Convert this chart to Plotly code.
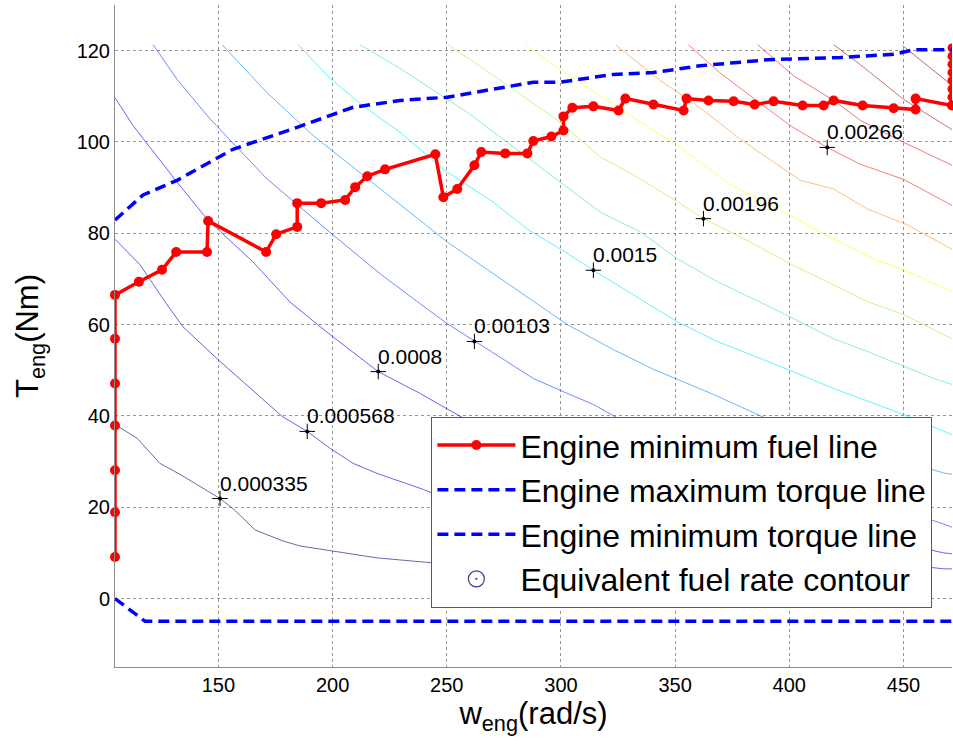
import plotly.graph_objects as go

# ---------------- data ----------------
# Engine minimum fuel line
minfuel_w = [104.72, 104.72, 104.72, 104.72, 104.72, 104.72, 104.72, 115.2, 125.3, 131.5, 145.0, 145.5,
             170.9, 175.3, 184.5, 184.5, 195.0, 205.5, 209.9, 215.2, 223.0, 245.0, 248.5, 254.6,
             262.1, 265.1, 275.6, 285.3, 287.9, 295.8, 301.1, 301.1, 305.0, 314.2, 325.2, 328.2,
             340.5, 353.7, 355.0, 364.6, 375.6, 384.8, 393.1, 405.8, 415.0, 419.4, 432.1, 445.7,
             455.3, 455.3, 471.24, 471.24, 471.24, 471.24, 471.24, 471.24, 471.24, 471.24]
minfuel_T = [9.1, 18.9, 28.1, 37.9, 47.1, 56.9, 66.5, 69.4, 72.0, 75.9, 75.9, 82.7,
             75.9, 79.8, 81.4, 86.6, 86.6, 87.3, 90.1, 92.5, 94.0, 97.3, 87.9, 89.7,
             94.9, 97.8, 97.5, 97.5, 100.2, 101.2, 102.5, 105.6, 107.5, 107.8, 106.9, 109.5,
             108.2, 106.9, 109.5, 109.1, 108.9, 108.2, 108.9, 108.0, 108.0, 109.1, 108.0, 107.4,
             107.1, 109.5, 108.0, 109.8, 111.6, 113.4, 115.2, 117.0, 118.8, 120.6]
n_edge = 8  # the last points lie on the right border of the map

# Engine maximum torque line
maxtq_w = [104.72, 117.0, 131.9, 156.4, 184.5, 209.0, 229.6, 250.2, 287.9, 299.7, 322.9, 340.5,
           361.1, 390.5, 422.5, 445.7, 454.5, 471.24]
maxtq_T = [82.9, 88.4, 91.6, 98.4, 103.2, 107.6, 109.1, 109.8, 113.1, 113.1, 114.8, 115.2,
           116.7, 118.0, 118.5, 119.2, 120.2, 120.2]

# Engine minimum torque line
mintq_w = [104.72, 117.9, 471.24]
mintq_T = [0.0, -5.0, -5.0]

# Equivalent fuel rate contour lines (one pair of lists per level)
levels = [0.000335, 0.000568, 0.0008, 0.00103, 0.00126, 0.0015, 0.00173,
          0.00196, 0.00219, 0.00243, 0.00266, 0.00289, 0.00312, 0.00336]

c0_w = [104.72, 114.4, 124.4, 133.2, 150.7, 156.4, 166.1, 178.3, 185.8, 200.3, 219.5, 244.1, 280.0, 320.0, 380.0]
c0_T = [38.1, 35.1, 29.6, 27.2, 21.9, 19.7, 15.0, 12.6, 11.5, 10.4, 8.9, 7.8, 6.8, 6.0, 5.0]
c1_w = [104.72, 115.7, 126.6, 134.5, 149.9, 158.2, 177.9, 188.9, 198.9, 209.0, 219.5, 239.7, 244.1,
        300.0, 350.0, 400.0, 440.0, 467.6, 471.24]
c1_T = [78.7, 73.1, 65.0, 59.5, 52.3, 48.6, 39.9, 36.6, 32.9, 29.6, 27.4, 23.9, 23.0,
        17.5, 13.5, 10.5, 8.0, 6.5, 6.5]
c2_w = [104.72, 112.6, 131.9, 145.0, 165.2, 181.4, 198.9, 220.0, 238.4, 250.2, 266.0,
        300.0, 350.0, 400.0, 440.0, 467.6, 471.24]
c2_T = [109.7, 103.6, 91.2, 83.1, 73.7, 64.9, 57.8, 49.7, 44.9, 41.6, 37.0,
        31.5, 24.5, 18.0, 13.0, 10.0, 9.8]
c3_w = [121.4, 131.9, 146.4, 171.3, 200.3, 220.9, 235.3, 250.2, 262.5, 287.9, 300.6, 314.2, 333.5,
        370.0, 400.0, 440.0, 467.6, 471.24]
c3_T = [121.3, 113.7, 105.0, 91.9, 79.6, 71.1, 65.7, 60.2, 56.3, 48.2, 45.4, 42.5, 37.1,
        31.5, 27.5, 21.0, 16.3, 15.6]
c4_w = [151.6, 171.3, 191.5, 229.6, 250.2, 264.7, 289.7, 302.8, 323.0, 340.5, 366.8, 386.1, 399.2,
        430.0, 467.6, 471.24]
c4_T = [121.3, 110.8, 101.4, 86.2, 78.1, 73.1, 64.4, 60.0, 54.5, 50.2, 44.7, 40.3, 37.3,
        33.0, 27.5, 27.2]
c5_w = [184.9, 199.0, 213.4, 229.6, 248.5, 270.4, 285.3, 300.6, 314.2, 331.7, 351.0, 368.5, 399.2,
        419.4, 450.1, 471.24]
c5_T = [121.3, 113.9, 107.9, 102.1, 94.0, 86.8, 80.9, 76.3, 71.9, 66.5, 60.6, 56.3, 50.2,
        46.0, 40.3, 35.9]
c6_w = [212.1, 229.6, 259.0, 299.7, 317.3, 334.8, 351.0, 368.5, 393.1, 419.4, 434.3, 463.2, 471.24]
c6_T = [121.3, 116.1, 106.5, 91.2, 84.6, 80.3, 74.4, 69.4, 63.5, 56.9, 54.1, 48.2, 46.9]
c7_w = [250.7, 273.5, 299.7, 317.3, 331.7, 351.0, 362.4, 378.6, 393.1, 400.5, 434.3, 450.1, 471.24]
c7_T = [121.3, 113.5, 104.3, 96.7, 92.8, 86.9, 83.2, 79.2, 75.3, 73.3, 65.0, 62.2, 56.9]
c8_w = [284.4, 299.7, 343.6, 349.3, 361.1, 372.9, 383.0, 400.5, 419.4, 436.9, 450.1, 471.24]
c8_T = [121.3, 115.9, 101.5, 99.9, 95.5, 91.1, 88.3, 83.9, 78.7, 74.4, 72.0, 67.2]
c9_w = [323.9, 343.6, 358.0, 378.6, 393.1, 404.9, 419.4, 434.3, 451.8, 471.24]
c9_T = [121.3, 113.4, 108.6, 100.6, 95.6, 91.6, 89.7, 85.3, 81.8, 76.5]
c10_w = [355.8, 369.5, 388.5, 401.6, 416.6, 431.2, 450.1, 471.24]
c10_T = [121.3, 115.2, 108.0, 103.2, 98.8, 95.1, 91.8, 86.1]
c11_w = [386.1, 401.9, 419.4, 431.2, 450.1, 471.24]
c11_T = [121.3, 114.5, 109.1, 104.7, 99.9, 94.9]
c12_w = [419.4, 431.2, 450.1, 471.24]
c12_T = [121.3, 116.9, 109.3, 102.7]
c13_w = [449.6, 471.24]
c13_T = [121.1, 112.4]

contour_w = [c0_w, c1_w, c2_w, c3_w, c4_w, c5_w, c6_w, c7_w, c8_w, c9_w, c10_w, c11_w, c12_w, c13_w]
contour_T = [c0_T, c1_T, c2_T, c3_T, c4_T, c5_T, c6_T, c7_T, c8_T, c9_T, c10_T, c11_T, c12_T, c13_T]

contour_colors = ['rgb(10,10,110)', 'rgb(0,0,220)', 'rgb(0,0,255)', 'rgb(20,60,255)', 'rgb(0,140,255)',
                  'rgb(0,235,255)', 'rgb(60,240,130)', 'rgb(160,245,60)', 'rgb(255,255,0)', 'rgb(255,150,40)',
                  'rgb(255,40,40)', 'rgb(235,30,30)', 'rgb(170,20,20)', 'rgb(120,20,20)']

# contour labels
label_w = [150.7, 188.9, 220.0, 262.1, 314.2, 362.4, 416.6]
label_T = [21.9, 36.6, 49.7, 56.3, 71.9, 83.2, 98.8]
label_text = ['0.000335', '0.000568', '0.0008', '0.00103', '0.0015', '0.00196', '0.00266']

x_ticks = [150, 200, 250, 300, 350, 400, 450]
y_ticks = [0, 20, 40, 60, 80, 100, 120]

FONT = 'Arial, Liberation Sans'

# ---------------- figure ----------------
fig = go.Figure()

for cw, cT, col in zip(contour_w, contour_T, contour_colors):
    fig.add_trace(go.Scatter(x=cw, y=cT, mode='lines', line=dict(color=col, width=1),
                             opacity=0.6, showlegend=False, hoverinfo='skip'))

fig.add_trace(go.Scatter(x=label_w, y=label_T, mode='markers',
                         marker=dict(symbol='cross-thin', size=11, line=dict(color='black', width=1)),
                         showlegend=False))
fig.add_trace(go.Scatter(x=label_w, y=label_T, mode='markers',
                         marker=dict(symbol='circle', size=4, color='black'), showlegend=False))
for lw, lT, lt in zip(label_w, label_T, label_text):
    fig.add_annotation(x=lw, y=lT, text=lt, showarrow=False, xanchor='left', yanchor='bottom',
                       xshift=-2, yshift=2, font=dict(size=21, color='black', family=FONT))

red = 'rgb(255,0,0)'
# part of the minimum fuel line inside the map (markers not clipped)
fig.add_trace(go.Scatter(x=minfuel_w[:-n_edge + 1], y=minfuel_T[:-n_edge + 1], mode='lines+markers',
                         name='Engine minimum fuel line', line=dict(color=red, width=3.5),
                         cliponaxis=False, marker=dict(color=red, size=10), legendrank=1))
# part lying on the right border (clipped by the axes)
fig.add_trace(go.Scatter(x=minfuel_w[-n_edge:], y=minfuel_T[-n_edge:], mode='lines+markers',
                         showlegend=False, line=dict(color=red, width=3.5),
                         cliponaxis=True, marker=dict(color=red, size=9)))
fig.add_trace(go.Scatter(x=maxtq_w, y=maxtq_T, mode='lines', name='Engine maximum torque line',
                         line=dict(color='rgb(0,0,255)', width=3.5, dash='11px,6px'), legendrank=2))
fig.add_trace(go.Scatter(x=mintq_w, y=mintq_T, mode='lines', name='Engine minimum torque line',
                         line=dict(color='rgb(0,0,255)', width=3.5, dash='11px,6px'), legendrank=3))
fig.add_trace(go.Scatter(x=[None], y=[None], mode='markers', name='Equivalent fuel rate contour',
                         marker=dict(symbol='circle-open-dot', size=16, color='rgb(60,60,150)',
                                     line=dict(width=1.2)), legendrank=4))

axis_common = dict(showgrid=True, gridcolor='rgb(150,150,150)', griddash='dot', gridwidth=1,
                   showline=True, linecolor='rgb(140,140,140)', linewidth=1, zeroline=False,
                   ticks='', tickfont=dict(size=20, color='black', family=FONT),
                   mirror=False)

fig.update_xaxes(range=[104.72, 471.24], tickvals=x_ticks, **axis_common,
                 title=dict(text='w<sub>eng</sub>(rad/s)', font=dict(size=31, family=FONT),
                            standoff=5))
fig.update_yaxes(range=[-15, 130], tickvals=y_ticks, **axis_common,
                 title=dict(text='T<sub>eng</sub>(Nm)', font=dict(size=31, family=FONT),
                            standoff=28))

fig.update_layout(width=953, height=752, margin=dict(l=115, r=1, t=5, b=85),
                  plot_bgcolor='white', paper_bgcolor='white',
                  font=dict(family=FONT, color='black'),
                  legend=dict(x=0.378, y=0.378, xanchor='left', yanchor='top',
                              bgcolor='white', bordercolor='rgb(90,90,90)', borderwidth=1,
                              font=dict(size=32, family=FONT),
                              itemwidth=78, tracegroupgap=0))

fig.write_html('out.html')
